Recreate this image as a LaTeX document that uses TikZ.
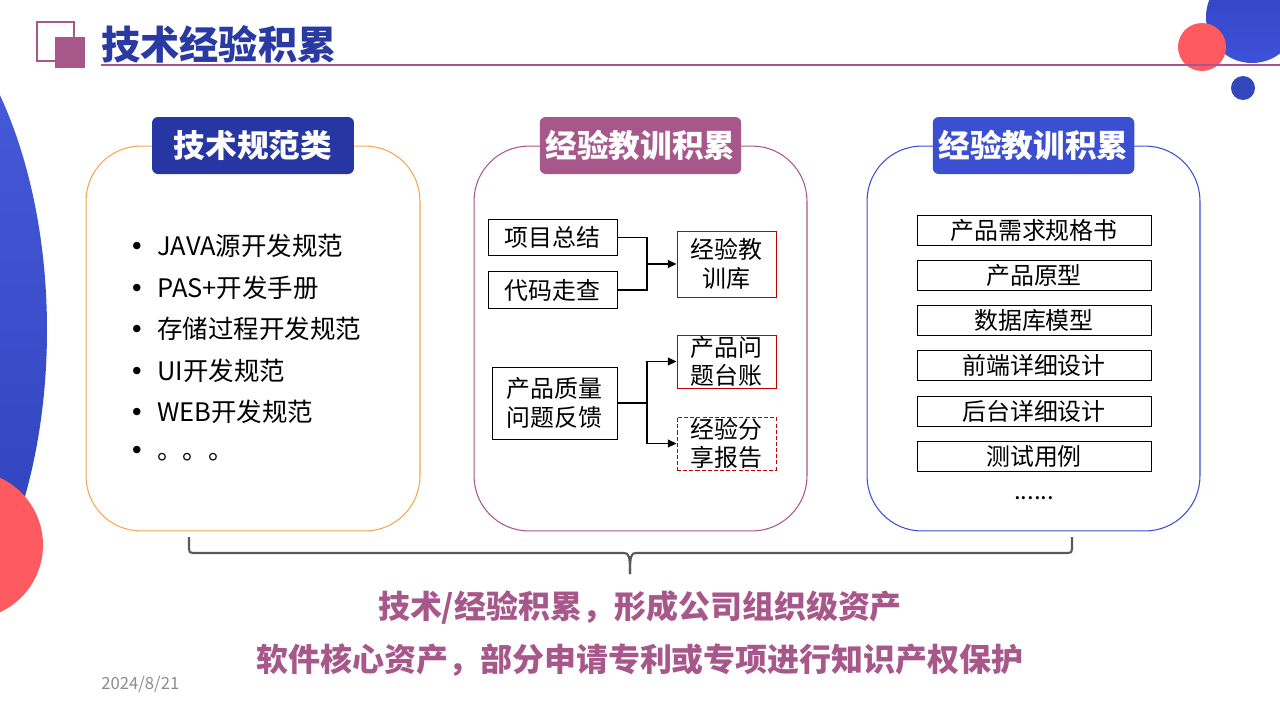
\documentclass[tikz,border=0pt]{standalone}
\usepackage{fontspec}
\setmainfont{Noto Sans CJK SC}
\newfontfamily\bulletfont{DejaVu Sans}
\usepackage{tikz}
\usetikzlibrary{arrows.meta}
\usepackage{xcolor}
\definecolor{titleblue}{RGB}{42,58,163}
\definecolor{navyhead}{RGB}{38,54,163}
\definecolor{plum}{RGB}{168,87,139}
\definecolor{royalblue}{RGB}{58,79,209}
\definecolor{panelorange}{RGB}{245,166,80}
\definecolor{coral}{RGB}{255,90,95}
\definecolor{boxred}{RGB}{192,0,0}
\definecolor{bracegray}{RGB}{90,90,90}
\definecolor{dategray}{RGB}{140,140,140}
\newcommand{\fs}[2]{\fontsize{#1}{#2}\selectfont}
\newcommand{\bul}{\makebox[0.56cm][l]{\bulletfont •}}

\begin{document}
\begin{tikzpicture}[
    x=0.02cm, y=-0.02cm,
    node distance=0.906cm,
    panel/.style={line width=0.6pt, rounded corners=1.1cm,
        minimum height=7.7cm, inner sep=0pt},
    header/.style={rounded corners=0.12cm, minimum width=4.04cm,
        minimum height=1.14cm, text=white, font=\fs{18pt}{20pt}\bfseries},
    listitem/.style={anchor=west, inner sep=0pt, font=\fs{14.5pt}{17pt}},
    srcbox/.style={draw=black, line width=0.55pt, font=\fs{13.6pt}{16.4pt},
        minimum width=2.58cm, minimum height=0.73cm, inner sep=0pt, align=center},
    kbox/.style={draw=boxred, line width=0.55pt, font=\fs{13.6pt}{16.2pt},
        minimum width=1.98cm, minimum height=1.06cm, inner sep=0pt, align=center},
    docbox/.style={draw=black, line width=0.55pt, font=\fs{13.6pt}{16pt},
        minimum width=4.68cm, minimum height=0.6cm, inner sep=0pt},
    link/.style={line width=0.7pt},
    arrow/.style={-{Triangle[length=5pt,width=4.5pt]}, line width=0.7pt},
    brace/.style={bracegray, line width=1.2pt},
    summary/.style={text=plum, font=\fs{18.2pt}{20pt}\bfseries}
]
    \useasboundingbox (0,0) rectangle (1280,720);
    \clip (0,0) rectangle (1280,720);

    % background decoration
    \shade[top color={rgb,255:red,74;green,95;blue,224}, bottom color={rgb,255:red,43;green,61;blue,181}]
        (-150,330) ellipse [x radius=197, y radius=362];
    \fill[coral] (-31,545) circle [radius=74];
    \shade[top color={rgb,255:red,50;green,66;blue,195}, bottom color={rgb,255:red,62;green,82;blue,216}]
        (1252,17) circle [radius=46];
    \fill[coral] (1202,47) circle [radius=24];
    \fill[royalblue!90!black] (1243,88) circle [radius=12];

    % title
    \draw[plum, line width=0.6pt] (37,22) rectangle (74,61);
    \fill[plum] (55,37) rectangle (85,68);
    \node[anchor=west, inner sep=0pt, text=titleblue, font=\fs{22.3pt}{24pt}\bfseries] (title) at (101,44) {技术经验积累};
    \draw[plum, line width=0.6pt] (101,65) -- (1280,65);

    % panels
    \node[panel, draw=panelorange, minimum width=6.68cm] (p1) at (253,338.5) {};
    \node[panel, draw=plum, minimum width=6.66cm] (p2) at (640.5,338.5) {};
    \node[panel, draw=royalblue, minimum width=6.66cm] (p3) at (1033.5,338.5) {};
    \node[header, fill=navyhead] (h1) at (p1.north) {技术规范类};
    \node[header, fill=plum, minimum width=4.02cm] (h2) at (p2.north) {经验教训积累};
    \node[header, fill=royalblue, minimum width=4.02cm] (h3) at (p3.north) {经验教训积累};

    % left panel list
    \node[listitem] (l1) at (129,246) {\bul JAVA源开发规范};
    \node[listitem] (l2) at (129,288) {\bul PAS+开发手册};
    \node[listitem] (l3) at (129,329) {\bul 存储过程开发规范};
    \node[listitem] (l4) at (129,371) {\bul UI开发规范};
    \node[listitem] (l5) at (129,412) {\bul WEB开发规范};
    \node[listitem] (l6) at (129,454) {\bul 。。。};

    % middle panel
    \node[srcbox] (sum) at (552.5,237.5) {项目总结};
    \node[srcbox, below of=sum, node distance=1.05cm] (walk) {代码走查};
    \node[kbox, minimum height=1.32cm] (lib) at (726.5,264) {经验教\\训库};
    \node[srcbox, minimum width=2.5cm, minimum height=1.44cm] (fb) at (554.5,403) {产品质量\\问题反馈};
    \node[kbox] (ledger) at (726.5,361.5) {产品问\\题台账};
    \node[kbox, dash pattern=on 2.3pt off 1.2pt] (share) at (726.5,443.5) {经验分\\享报告};

    \coordinate (j1) at (647,264);
    \coordinate (j2) at (647,403);
    \draw[link] (sum.east) -| (j1);
    \draw[link] (walk.east) -| (j1);
    \draw[arrow] (j1) -- (lib.west);
    \draw[link] (fb.east) -- (j2);
    \draw[arrow] (j2) |- (ledger.west);
    \draw[arrow] (j2) |- (share.west);

    % right panel
    \node[docbox] (d1) at (1034,230) {产品需求规格书};
    \node[docbox, below of=d1] (d2) {产品原型};
    \node[docbox, below of=d2] (d3) {数据库模型};
    \node[docbox, below of=d3] (d4) {前端详细设计};
    \node[docbox, below of=d4] (d5) {后台详细设计};
    \node[docbox, below of=d5] (d6) {测试用例};
    \node[anchor=base, font=\fs{13.6pt}{16pt}] (more) at (1034,499) {......};

    % brace
    \coordinate (bl) at (189,537);
    \coordinate (br) at (1072,537);
    \coordinate (bt) at (630,574);
    \draw[brace] (bl) -- (189,549) .. controls (189,552) and (190,553) .. (193,553)
        -- (624,553) .. controls (629,553) and (630,556) .. (bt);
    \draw[brace] (br) -- (1072,549) .. controls (1072,552) and (1071,553) .. (1068,553)
        -- (636,553) .. controls (631,553) and (630,556) .. (bt);

    % summary
    \node[summary] (s1) at (640,607) {技术/经验积累，形成公司组织级资产};
    \node[summary, below of=s1, node distance=1.06cm] (s2) {软件核心资产，部分申请专利或专项进行知识产权保护};
    \node[anchor=west, inner sep=0pt, text=dategray, font=\fs{9.5pt}{11pt}] (date) at (101,684) {2024/8/21};
\end{tikzpicture}
\end{document}
